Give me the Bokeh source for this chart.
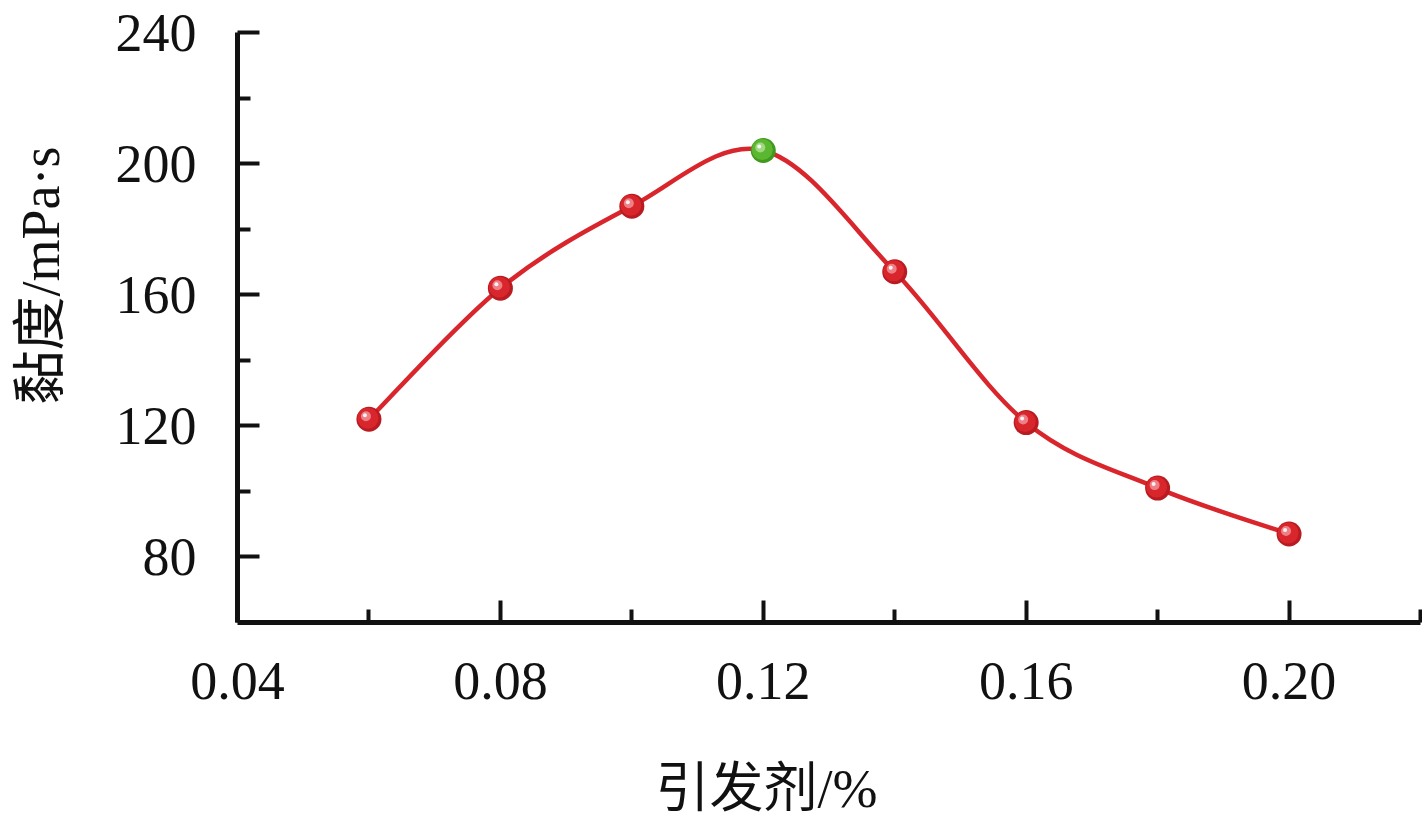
import numpy as np
from bokeh.plotting import figure
from bokeh.models import Range1d, FixedTicker, Title, ColumnDataSource
from bokeh.transform import dodge
from bokeh.embed import file_html
from bokeh.resources import INLINE

# ---- data ----
initiator = [0.06, 0.08, 0.10, 0.12, 0.14, 0.16, 0.18, 0.20]
viscosity = [122, 162, 187, 204, 167, 121, 101, 87]
best_index = 3

x_major = [0.04, 0.08, 0.12, 0.16, 0.20]
x_minor = [0.06, 0.10, 0.14, 0.18, 0.22]
y_major = [80, 120, 160, 200, 240]
y_minor = [100, 140, 180, 220]
x_label_text = "引发剂/%"
y_label_text = "黏度/mPa·s"

SERIF = "Liberation Serif, Noto Sans CJK SC"
RED = "#d8262c"
GREEN = "#5cb730"

W, H = 1422, 820
p = figure(width=W, height=H, output_backend="svg", toolbar_location=None,
           x_range=Range1d(0.04, 0.22), y_range=Range1d(60, 240),
           min_border_left=237, min_border_right=2, min_border_top=32,
           min_border_bottom=197)
p.outline_line_color = None
p.grid.visible = False
p.background_fill_color = "white"
p.border_fill_color = "white"

for ax, maj, mnr in ((p.xaxis[0], x_major, x_minor), (p.yaxis[0], y_major, y_minor)):
    ax.ticker = FixedTicker(ticks=maj, minor_ticks=mnr)
    ax.axis_line_width = 5
    ax.axis_line_color = "#111111"
    ax.major_tick_line_width = 4
    ax.minor_tick_line_width = 4
    ax.major_tick_line_color = "#111111"
    ax.minor_tick_line_color = "#111111"
    ax.major_tick_in = 22
    ax.major_tick_out = 0
    ax.minor_tick_in = 13
    ax.minor_tick_out = 0
    ax.major_label_text_font = SERIF
    ax.major_label_text_font_size = "54px"
    ax.major_label_text_color = "#111111"

p.xaxis[0].major_label_standoff = 40
p.yaxis[0].major_label_standoff = 41
p.xaxis[0].major_label_overrides = {t: f"{t:.2f}" for t in x_major}

# ---- smooth curve (cardinal / Catmull-Rom bezier through data points) ----
xs = np.array(initiator, dtype=float)
ys = np.array(viscosity, dtype=float)
n = len(xs)
xp = np.concatenate([[xs[0]], xs, [xs[-1]]])
yp = np.concatenate([[ys[0]], ys, [ys[-1]]])
x0, y0 = xs[:-1], ys[:-1]
x1, y1 = xs[1:], ys[1:]
cx0 = x0 + (xp[2:n+1] - xp[0:n-1]) / 6.0
cy0 = y0 + (yp[2:n+1] - yp[0:n-1]) / 6.0
cx1 = x1 - (xp[3:n+2] - xp[1:n]) / 6.0
cy1 = y1 - (yp[3:n+2] - yp[1:n]) / 6.0
p.bezier(x0=x0, y0=y0, x1=x1, y1=y1, cx0=cx0, cy0=cy0, cx1=cx1, cy1=cy1,
         line_color=RED, line_width=4.5)

# ---- balls ----
colors = [GREEN if i == best_index else RED for i in range(n)]
dark = ["#3f9a1e" if i == best_index else "#b81b21" for i in range(n)]
light = ["#a6dc8a" if i == best_index else "#f08a90" for i in range(n)]
src = ColumnDataSource(dict(x=initiator, y=viscosity, c=colors, d=dark, l=light))

px_x = (0.22 - 0.04) / 1183.0
px_y = (240 - 60) / 591.0

p.scatter("x", "y", source=src, size=25, fill_color="d", line_color=None)
p.scatter(dodge("x", -1 * px_x, range=p.x_range), dodge("y", 1 * px_y, range=p.y_range),
          source=src, size=21, fill_color="c", line_color=None)
p.scatter(dodge("x", -3 * px_x, range=p.x_range), dodge("y", 3 * px_y, range=p.y_range),
          source=src, size=10, fill_color="l", line_color=None, fill_alpha=0.9)
p.scatter(dodge("x", -4 * px_x, range=p.x_range), dodge("y", 4 * px_y, range=p.y_range),
          source=src, size=4, fill_color="white", line_color=None, fill_alpha=0.9)

# ---- axis titles (with spacer panels) ----
p.add_layout(Title(text=" ", text_font_size="1px", standoff=50), "below")
p.add_layout(Title(text=x_label_text, align="left", offset=418, standoff=4,
                   text_font=SERIF, text_font_size="54px", text_font_style="normal",
                   text_color="#111111"), "below")
p.add_layout(Title(text=" ", text_font_size="1px", standoff=31), "left")
p.add_layout(Title(text=y_label_text, align="left", offset=218, standoff=16,
                   text_font=SERIF, text_font_size="54px", text_font_style="normal",
                   text_color="#111111"), "left")

open("out.html", "w").write(file_html(p, INLINE))
